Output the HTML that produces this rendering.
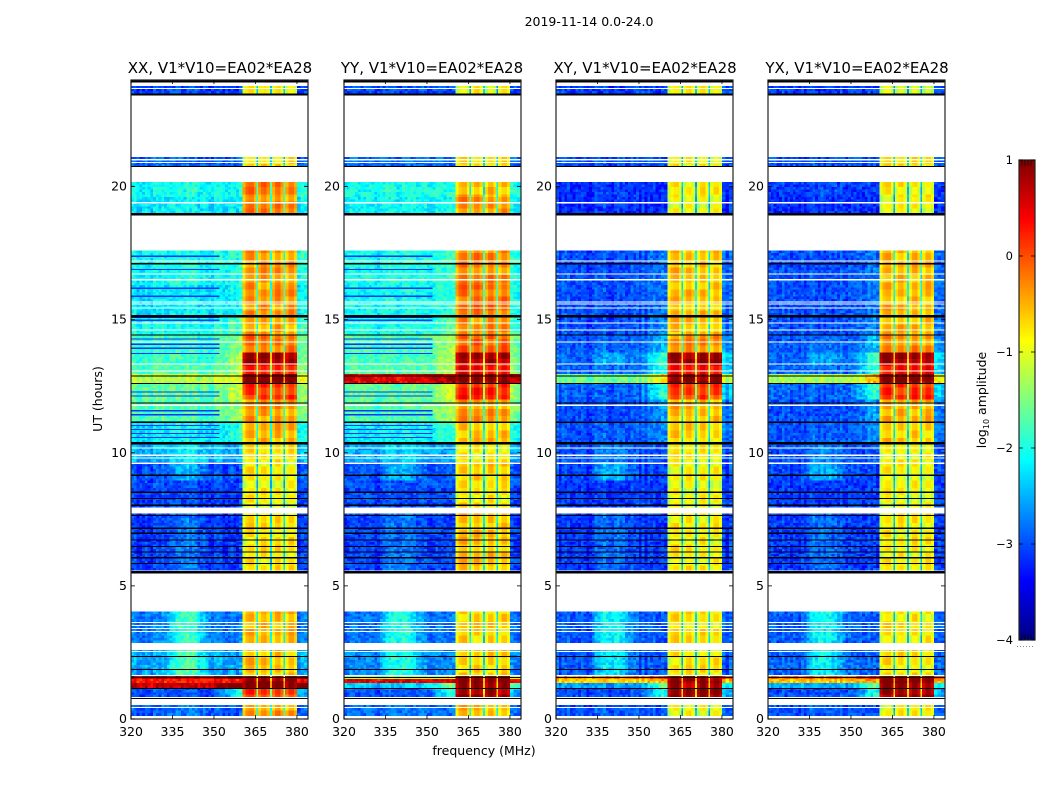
<!DOCTYPE html>
<html lang="en">
<head>
<meta charset="utf-8">
<title>2019-11-14 0.0-24.0</title>
<style>
html,body{margin:0;padding:0;background:#fff;}
svg{display:block;font-family:"DejaVu Sans","Liberation Sans",sans-serif;fill:#000;}
</style>
</head>
<body>
<svg id="figure" xmlns="http://www.w3.org/2000/svg" width="1050" height="800" viewBox="0 0 1050 800">
  <rect x="0" y="0" width="1050" height="800" fill="#fff"/>
  <text x="589" y="26" font-size="12.5" text-anchor="middle">2019-11-14 0.0-24.0</text>
  <text x="220" y="73" font-size="15" text-anchor="middle">XX, V1*V10=EA02*EA28</text>
  <text x="432" y="73" font-size="15" text-anchor="middle">YY, V1*V10=EA02*EA28</text>
  <text x="645" y="73" font-size="15" text-anchor="middle">XY, V1*V10=EA02*EA28</text>
  <text x="857" y="73" font-size="15" text-anchor="middle">YX, V1*V10=EA02*EA28</text>
  <text x="484" y="755" font-size="12.5" text-anchor="middle">frequency (MHz)</text>
  <text x="0" y="0" font-size="12.5" text-anchor="middle" transform="translate(102 399) rotate(-90)">UT (hours)</text>
  <text x="0" y="0" font-size="12.5" text-anchor="middle" transform="translate(986 400) rotate(-90)">log<tspan font-size="8" dy="3">10</tspan><tspan dy="-3"> amplitude</tspan></text>
  <g id="panels"></g>
  <g id="colorbar"></g>
</svg>
<script>
// ---- chart values ----
const panelNames = ['xx', 'yy', 'xy', 'yx'];
const panelLefts = [131, 344, 556, 768];
const xTicks = [320, 335, 350, 365, 380];
const yTicks = [0, 5, 10, 15, 20];
const colorbarTicks = [1, 0, -1, -2, -3, -4];

// Frequency channel edges in MHz (63 channels)
const channelEdges = [320,321,322,323,324,325,326,327,328,329,330,331,332,333,334,335,336,337,338,339,340,341,342,343,344,345,346,347,348,349,350,351,352,353,354,355,356,357,358,359,360.4,361.4,362.4,363.4,364.4,365.4,366,367,368,369,370.3,370.9,372,373,374,375.2,375.7,377,378,379,380,381.3,382.6,384];
const bumpWeight = [0,0,0,0,0,0,0,0,0,0,0,0,.1,.25,.45,.6,.8,.9,1,1,1,1,.95,.85,.7,.55,.4,.3,.15,.1,0,0,0,0,0,0,0,0,0,0,0,0,0,0,0,0,0,0,0,0,0,0,0,0,0,0,0,0,0,0,0,0,0];
const shoulderWeight = [0,0,0,0,0,0,0,0,0,0,0,0,0,0,0,0,0,0,0,0,0,0,0,0,0,0,0,0,0,0,.05,.15,.25,.4,.5,.65,.8,.9,1,1,0,0,0,0,0,0,0,0,0,0,0,0,0,0,0,0,0,0,0,0,.6,.5,.4];
const blockOffset = [null,null,null,null,null,null,null,null,null,null,null,null,null,null,null,null,null,null,null,null,null,null,null,null,null,null,null,null,null,null,null,null,null,null,null,null,null,null,null,null,-.3,0,.1,.1,-.2,-1.6,-.2,.05,.1,-.15,-1.6,-.25,.05,.1,-.2,-1.6,-.25,.05,.05,-.2,null,null,null];
const blockIndex = [0,0,0,0,0,0,0,0,0,0,0,0,0,0,0,0,0,0,0,0,0,0,0,0,0,0,0,0,0,0,0,0,0,0,0,0,0,0,0,0,0,0,0,0,0,0,1,1,1,1,1,2,2,2,2,2,3,3,3,3,0,0,0];

// Observing epochs: start / end in UT hours
const epochStart = [0.12,0.83,1.17,1.36,1.50,1.66,2.86,5.58,7.95,8.95,9.65,10.38,11.2,12.0,12.62,12.95,13.35,13.77,14.45,15.17,16.3,19.0,19.6,20.77,23.5];
const epochEnd   = [0.52,1.17,1.36,1.50,1.62,2.60,4.03,7.72,8.95,9.65,10.38,11.2,12.0,12.62,12.95,13.35,13.77,14.45,15.17,16.3,17.6,19.6,20.17,21.1,23.78];

// Off-band level for each epoch (log10 amplitude)
const xxBackground = [-2.9,-3.0,0.65,0.25,0.65,-2.55,-2.75,-3.1,-3.05,-3.0,-2.5,-2.2,-1.75,-1.65,-1.25,-1.75,-1.85,-1.85,-2.05,-2.25,-2.1,-2.25,-2.1,-2.9,-3.05];
const yyBackground = [-2.9,-3.0,-2.4,0.45,-1.3,-2.75,-2.85,-3.1,-3.05,-3.0,-2.6,-2.2,-1.75,-1.65,0.45,-1.75,-1.85,-1.8,-2.05,-2.15,-2.1,-2.2,-2.1,-2.9,-3.05];
const xyBackground = [-3.0,-3.0,-2.6,-0.7,-0.3,-2.95,-2.95,-3.1,-3.1,-3.05,-3.0,-3.0,-3.0,-2.9,-1.6,-2.9,-2.9,-2.95,-3.0,-3.0,-3.0,-3.2,-3.15,-3.0,-3.1];
const yxBackground = [-3.0,-3.0,-2.5,-0.6,-0.2,-2.9,-2.95,-3.1,-3.1,-3.05,-3.0,-3.0,-3.0,-2.9,-1.3,-2.9,-2.9,-2.95,-3.0,-3.0,-3.0,-3.2,-3.1,-3.0,-3.1];

// In-band level for each epoch
const xxBlock = [-0.4,0.1,1,1,1,-0.6,-0.55,-0.8,-0.9,-0.85,-0.8,-0.5,-0.4,0.1,1,0.35,0.8,-0.2,-0.45,-0.35,-0.4,-0.3,-0.25,-0.75,-0.85];
const yyBlock = [-0.6,0.9,0.9,1,1,-0.7,-0.7,-0.6,-0.8,-0.65,-0.85,-0.6,-0.4,0.2,1,0.35,0.85,-0.1,-0.35,-0.2,-0.3,-0.35,-0.55,-0.8,-0.85];
const xyBlock = [-0.9,0.9,0.8,1,1,-0.8,-0.8,-0.85,-0.95,-0.9,-0.9,-0.7,-0.55,0.1,1,0.35,0.9,-0.35,-0.6,-0.6,-0.6,-0.95,-0.85,-0.85,-0.95];
const yxBlock = [-0.9,0.9,0.8,1,1,-0.8,-0.8,-0.85,-0.95,-0.9,-0.9,-0.65,-0.5,0.15,1,0.35,0.85,-0.35,-0.55,-0.55,-0.55,-0.95,-0.85,-0.85,-0.95];

// Broad lift near 340 MHz, and ramp next to the band, per epoch
const copolBump = [0.1,0,0,0,0,0.8,0.9,0.3,0,0.5,0.3,0.1,0,0,0,0,0,0,0,0.1,0.1,0.1,0.1,0,0];
const crossBump = [0.1,0,0,0,0,0.8,0.9,0.3,0,0.6,0.3,0.1,0,0,0,0.1,0.4,0.1,0,0,0,0.1,0.1,0,0];
const copolShoulder = [0,1.0,0.8,0,0.4,0,0,0,0,0,0,0.3,0.4,0.5,0.3,0.5,0.6,0.4,0.3,0.2,0.2,0.1,0.1,0,0];
const crossShoulder = [0,1.0,0.9,0.2,0.5,0,0,0,0,0,0,0.3,0.4,1.0,0.8,1.0,1.1,0.5,0.3,0.2,0.2,0,0,0,0];

// Horizontal texture seen inside the band, and fine speckle seen off-band
const rowRipple = [.1,-.07,.18,.04,-.14,.07,.2,-.1,0,.14,-.18,.07,-.04,.14,-.07,.04,-.2,.1,.18];
const speckle = [.16,-.2,.04,.24,-.08,-.24,.12,0,-.16,.2,.08,-.04,-.24,.16,.24,-.12,.04,-.2,.08,.2,-.08,0,.24,-.24,.12,-.04,.16,-.16,.04,-.12,.08];

// Flagged integrations, UT hours
const whiteLines = [23.7,21.03,20.92,19.41,17.23,16.74,16.52,15.69,15.61,15.46,14.9,14.63,14.18,13.36,13.09,11.81,10.2,9.93,9.82,9.63,8.54,3.65,3.54,3.42,3.31,2.56,0.45];
const blackLines = [20.77,17.12,14.45,12.9,12.62,11.89,11.17,9.18,8.54,8.31,8.05,7.67,7.19,7.0,6.75,6.5,6.3,6.08,5.86,2.37,1.88,1.58,1.17,0.79];
const heavyLines = [24,23.5,19.0,15.17,10.4,5.55];
const dropoutLines = [17.4,16.9,16.2,15.9,14.3,14.1,13.95,13.75,12.3,12.15,11.6,11.45,11.05,10.9,10.75,10.6,15.0,15.1];

// ---- scales ----
const NS = 'http://www.w3.org/2000/svg';
const panelWidth = 177, axisTop = 80, axisBottom = 719;
function xScale(left, f) { return left + (f - 320) * panelWidth / 64; }
function yScale(h) { return axisBottom - h * (axisBottom - axisTop) / 24; }
const cbTop = 160, cbBottom = 640, cbLeft = 1019, cbRight = 1035;
function cbScale(v) { return cbTop + (1 - v) * (cbBottom - cbTop) / 5; }

function jet(v) {
  var t = Math.max(0, Math.min(1, (v + 4) / 5));
  var ramp = function (x) { return Math.max(0, Math.min(1, x)); };
  var r = ramp(Math.min(4 * t - 1.5, -4 * t + 4.5));
  var g = ramp(Math.min(4 * t - 0.5, -4 * t + 3.5));
  var b = ramp(Math.min(4 * t + 0.5, -4 * t + 2.5));
  return 'rgb(' + Math.round(r * 255) + ',' + Math.round(g * 255) + ',' + Math.round(b * 255) + ')';
}

function make(tag, attrs, parent) {
  var el = document.createElementNS(NS, tag);
  for (var k in attrs) el.setAttribute(k, attrs[k]);
  if (parent) parent.appendChild(el);
  return el;
}

const backgrounds = { xx: xxBackground, yy: yyBackground, xy: xyBackground, yx: yxBackground };
const blocks = { xx: xxBlock, yy: yyBlock, xy: xyBlock, yx: yxBlock };
const panelsGroup = document.getElementById('panels');

panelNames.forEach(function (name, p) {
  var left = panelLefts[p];
  var isCopol = name === 'xx' || name === 'yy';
  var bump = isCopol ? copolBump : crossBump;
  var shoulder = isCopol ? copolShoulder : crossShoulder;
  var g = make('g', {}, panelsGroup);
  
  
  var frag = document.createDocumentFragment();
  var rowCounter = 0;

  epochStart.forEach(function (start, e) {
    var end = epochEnd[e];
    var rows = Math.max(1, Math.round((end - start) / 0.09));
    for (var r = 0; r < rows; r++) {
      var h0 = start + (end - start) * r / rows;
      var h1 = start + (end - start) * (r + 1) / rows;
      var yTop = yScale(h1), yBot = yScale(h0);
      rowCounter++;
      for (var c = 0; c < channelEdges.length - 1; c++) {
        var value;
        var offset = blockOffset[c];
        if (offset !== null) {
          var ripple = rowRipple[(Math.floor(rowCounter / 3) + blockIndex[c] * 3 + p * 5) % rowRipple.length];
          value = blocks[name][e] + offset + ripple;
        } else {
          var stripe = speckle[(c * c * 3 + p * 7) % speckle.length] * 0.5;
          value = backgrounds[name][e] + bump[e] * bumpWeight[c] + shoulder[e] * shoulderWeight[c] + stripe +
            speckle[(rowCounter * rowCounter + c * c * 5 + rowCounter * c + p * 7) % speckle.length];
        }
        var x0 = xScale(left, channelEdges[c]);
        var x1 = xScale(left, channelEdges[c + 1]);
        var cell = make('rect', { x: x0.toFixed(2), y: yTop.toFixed(2), width: (x1 - x0).toFixed(2), height: (yBot - yTop).toFixed(2), fill: jet(value), 'shape-rendering': 'crispEdges' }, frag);
        
        
      }
    }
  });

  if (isCopol) {
    dropoutLines.forEach(function (h) {
      var drop = make('rect', { x: left, y: yScale(h).toFixed(2), width: xScale(left, 352) - left, height: 1.2, fill: jet(-3.1), 'shape-rendering': 'crispEdges' }, frag);
      
      
    });
  }
  whiteLines.forEach(function (h) {
    var line = make('rect', { x: left, y: yScale(h).toFixed(2), width: panelWidth, height: 1.2, fill: '#fff', 'shape-rendering': 'crispEdges' }, frag);
    
    
  });
  blackLines.forEach(function (h) {
    var line = make('rect', { x: left, y: yScale(h).toFixed(2), width: panelWidth, height: 1.2, fill: '#000', 'shape-rendering': 'crispEdges' }, frag);
    
    
  });
  heavyLines.forEach(function (h) {
    var line = make('rect', { x: left, y: yScale(h).toFixed(2), width: panelWidth, height: 2.4, fill: '#000', 'shape-rendering': 'crispEdges' }, frag);
    
    
  });

  var frame = make('rect', { x: left, y: axisTop, width: panelWidth, height: axisBottom - axisTop, fill: 'none', stroke: '#222', 'stroke-width': 1.2 }, frag);
  
  

  xTicks.forEach(function (f) {
    var x = xScale(left, f);
    var bottomTick = make('line', { x1: x, x2: x, y1: axisBottom, y2: axisBottom - 4, stroke: '#000', 'stroke-width': 0.8 }, frag);
    
    
    var topTick = make('line', { x1: x, x2: x, y1: axisTop, y2: axisTop + 4, stroke: '#000', 'stroke-width': 0.8 }, frag);
    
    
    var label = make('text', { x: x, y: 736, 'font-size': 12.5, 'text-anchor': 'middle' }, frag);
    
    
    label.textContent = f;
  });
  yTicks.forEach(function (h) {
    var y = yScale(h);
    var leftTick = make('line', { x1: left, x2: left + 4, y1: y, y2: y, stroke: '#000', 'stroke-width': 0.8 }, frag);
    
    
    var rightTick = make('line', { x1: left + panelWidth, x2: left + panelWidth - 4, y1: y, y2: y, stroke: '#000', 'stroke-width': 0.8 }, frag);
    
    
    var label = make('text', { x: left - 4, y: y + 4, 'font-size': 12.5, 'text-anchor': 'end' }, frag);
    
    
    label.textContent = h;
  });
  g.appendChild(frag);
});

// ---- colorbar ----
const cbGroup = document.getElementById('colorbar');
for (var y = cbTop; y < cbBottom; y += 2) {
  var v = 1 - (y - cbTop) * 5 / (cbBottom - cbTop);
  var seg = make('rect', { x: cbLeft, y: y, width: cbRight - cbLeft, height: 2, fill: jet(v - 0.01), 'shape-rendering': 'crispEdges' }, cbGroup);
  
  
}
const cbFrame = make('rect', { x: cbLeft, y: cbTop, width: cbRight - cbLeft, height: cbBottom - cbTop, fill: 'none', stroke: '#222', 'stroke-width': 1.2 }, cbGroup);


colorbarTicks.forEach(function (v) {
  var y = cbScale(v);
  var tickL = make('line', { x1: cbLeft, x2: cbLeft + 4, y1: y, y2: y, stroke: '#000', 'stroke-width': 0.8 }, cbGroup);
  
  
  var tickR = make('line', { x1: cbRight, x2: cbRight - 4, y1: y, y2: y, stroke: '#000', 'stroke-width': 0.8 }, cbGroup);
  
  
  var label = make('text', { x: cbLeft - 6, y: y + 4, 'font-size': 11.5, 'text-anchor': 'end' }, cbGroup);
  
  
  label.textContent = v < 0 ? '\u2212' + Math.abs(v) : String(v);
});
[1022, 1025, 1028, 1031].forEach(function (x) {
  var minorTop = make('line', { x1: x, x2: x, y1: cbTop, y2: cbTop + 6, stroke: '#000', 'stroke-width': 0.6 }, cbGroup);
  
  
  var minorBottom = make('line', { x1: x, x2: x, y1: cbBottom, y2: cbBottom - 6, stroke: '#000', 'stroke-width': 0.6 }, cbGroup);
  
  
});
const cbDots = make('line', { x1: 1017, x2: 1035, y1: 646.5, y2: 646.5, stroke: '#888', 'stroke-width': 1, 'stroke-dasharray': '1 2' }, cbGroup);


</script>
</body>
</html>
